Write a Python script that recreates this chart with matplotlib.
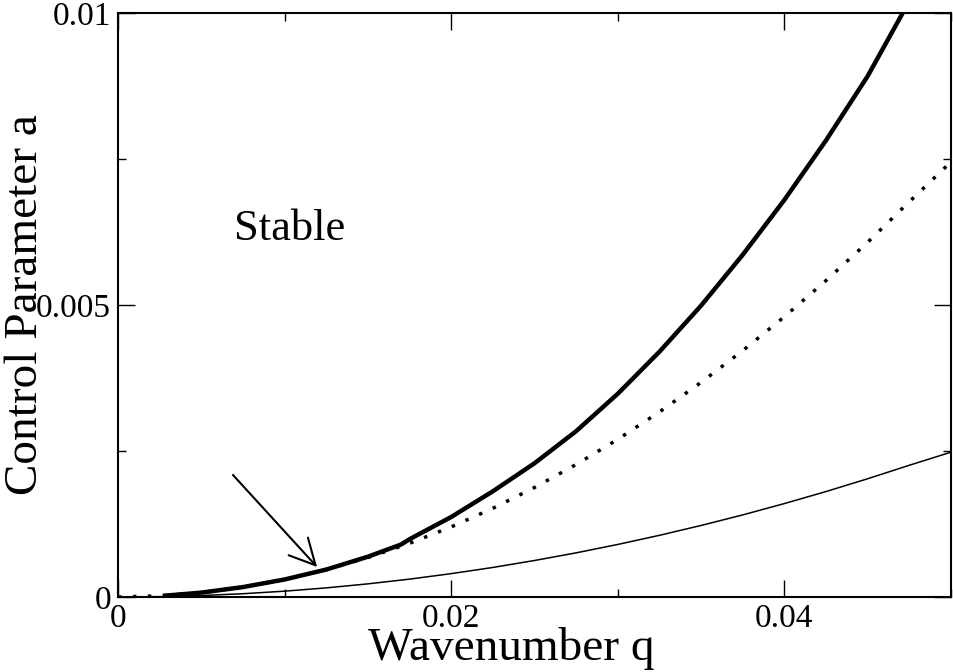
import matplotlib
matplotlib.use("Agg")
import matplotlib.pyplot as plt
from matplotlib.ticker import FixedLocator, FuncFormatter

# ---- data ----
# thick curve (stability boundary)
thick_q = [0.0027, 0.0050, 0.0075, 0.0100, 0.0125, 0.0150, 0.0170, 0.0175,
           0.0200, 0.0225, 0.0250, 0.0275, 0.0300, 0.0325, 0.0350, 0.0375,
           0.0400, 0.0425, 0.0450, 0.0471]
thick_a = [0.00002, 0.000075, 0.000170, 0.000300, 0.000470, 0.000690, 0.000900, 0.000990,
           0.001370, 0.001810, 0.002290, 0.002840, 0.003480, 0.004200, 0.004990, 0.005860,
           0.006800, 0.007820, 0.008920, 0.010000]

# dotted curve
dot_q = [0.0, 0.0025, 0.005, 0.0075, 0.010, 0.0125, 0.015, 0.0175, 0.020, 0.0225,
         0.025, 0.0275, 0.030, 0.0325, 0.035, 0.0375, 0.040, 0.0425, 0.045, 0.0475, 0.050]
dot_a = [0.0, 0.000019, 0.000075, 0.000169, 0.000300, 0.000469, 0.000675, 0.000919,
         0.001200, 0.001519, 0.001875, 0.002269, 0.002700, 0.003169, 0.003675, 0.004219,
         0.004800, 0.005419, 0.006075, 0.006769, 0.007450]

# thin curve
thin_q = [0.0, 0.0025, 0.005, 0.0075, 0.010, 0.0125, 0.015, 0.0175, 0.020, 0.0225,
          0.025, 0.0275, 0.030, 0.0325, 0.035, 0.0375, 0.040, 0.0425, 0.045, 0.0475, 0.050]
thin_a = [0.0, 0.0000063, 0.000025, 0.000056, 0.000100, 0.000156, 0.000225, 0.000306,
          0.000400, 0.000506, 0.000625, 0.000756, 0.000900, 0.001056, 0.001225, 0.001406,
          0.001600, 0.001806, 0.002025, 0.002256, 0.002480]

x_major = [0.0, 0.02, 0.04]
x_minor = [0.01, 0.03, 0.05]
y_major = [0.0, 0.005, 0.01]
y_minor = [0.0025, 0.0075]

label_x = "Wavenumber q"
label_y = "Control Parameter a"
region_text = "Stable"
text_pos = (0.00696, 0.00611)
arrow_tail = (0.0069, 0.00209)
arrow_tip = (0.01195, 0.000514)

plt.rcParams['font.family'] = ['Liberation Serif', 'DejaVu Serif']

fig = plt.figure(figsize=(9.54, 6.72), dpi=100)
ax = fig.add_axes([118/954, 75/672, 833/954, 584/672])

ax.plot(thin_q, thin_a, color='black', lw=1.1)
ax.plot(dot_q, dot_a, color='black', lw=2.5, linestyle=(0, (1, 3.3)))
ax.plot(thick_q, thick_a, color='black', lw=3.2, solid_capstyle='butt',
        solid_joinstyle='round')

ax.set_xlim(0, 0.05)
ax.set_ylim(0, 0.01)

fmt = FuncFormatter(lambda v, p: "%g" % round(v, 6))
ax.xaxis.set_major_locator(FixedLocator(x_major))
ax.xaxis.set_minor_locator(FixedLocator(x_minor))
ax.yaxis.set_major_locator(FixedLocator(y_major))
ax.yaxis.set_minor_locator(FixedLocator(y_minor))
ax.xaxis.set_major_formatter(fmt)
ax.yaxis.set_major_formatter(fmt)

ax.tick_params(which='both', direction='in', top=True, right=True, width=1.0, color='black')
ax.tick_params(which='major', length=12, labelsize=24, pad=5)
ax.tick_params(which='minor', length=6)
for s in ax.spines.values():
    s.set_linewidth(1.5)

ax.set_xlabel(label_x, fontsize=34)
ax.xaxis.label.set_verticalalignment('baseline')
ax.xaxis.set_label_coords(0.472, -0.108)
ax.set_ylabel(label_y, fontsize=34)
ax.yaxis.label.set_verticalalignment('baseline')
ax.yaxis.set_label_coords(-0.097, 0.5)

ax.text(text_pos[0], text_pos[1], region_text, fontsize=32, ha='left', va='baseline')

ax.annotate('', xy=arrow_tip, xytext=arrow_tail,
            arrowprops=dict(arrowstyle='->,head_length=1.84,head_width=0.94',
                            mutation_scale=10, lw=1.5, color='black',
                            shrinkA=0, shrinkB=0))

fig.savefig('out.png', dpi=100)
